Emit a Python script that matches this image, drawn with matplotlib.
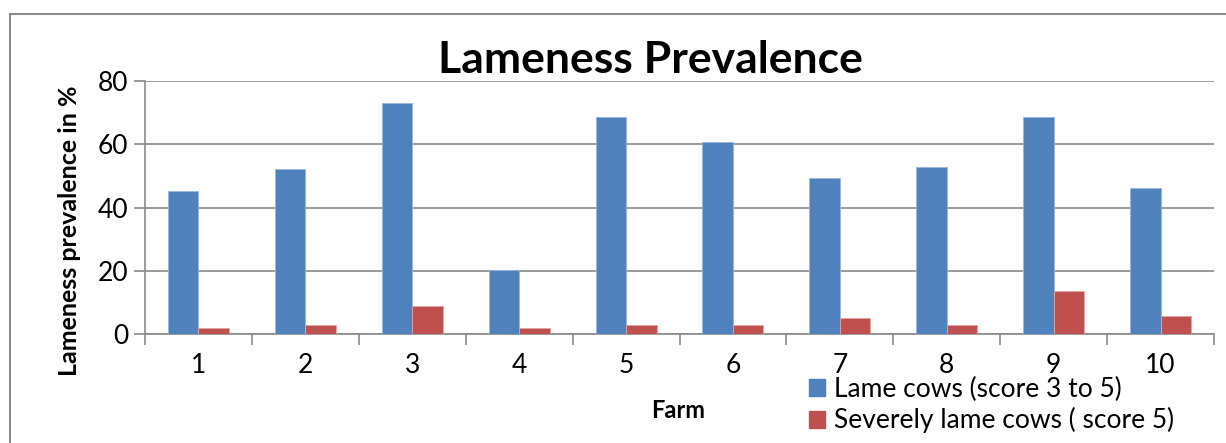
import numpy as np
import matplotlib.pyplot as plt
from matplotlib.patches import Rectangle, Patch

farms = ['1', '2', '3', '4', '5', '6', '7', '8', '9', '10']
lame = [45.3, 52.3, 73.1, 20.2, 68.5, 60.6, 49.3, 52.8, 68.6, 46.3]
severe = [1.8, 2.8, 8.9, 1.8, 2.8, 2.8, 5.0, 2.8, 13.7, 5.7]
yticks = [0, 20, 40, 60, 80]

plt.rcParams['font.family'] = ['Lato', 'DejaVu Sans']

fig = plt.figure(figsize=(12.26, 4.43), dpi=100)

# outer chart border (cropped at right/bottom in the source)
fig.patches.append(Rectangle((10 / 1226, -0.1), 1.2, 1 - 14 / 443 + 0.1,
                             transform=fig.transFigure, fill=False,
                             edgecolor='#8c8c8c', linewidth=1.5))

ax = fig.add_axes([145 / 1226, 1 - 334 / 443, (1214 - 145) / 1226, (334 - 81) / 443])

x = np.arange(len(farms))
w = 0.285
ax.bar(x - w / 2, lame, w, color='#4F81BD', edgecolor='#9bb7dc', linewidth=0.6,
       label='Lame cows (score 3 to 5)', zorder=3)
ax.bar(x + w / 2, severe, w, color='#C0504D', edgecolor='#e3a5a3', linewidth=0.6,
       label='Severely lame cows ( score 5)', zorder=3)

ax.set_xlim(-0.5, len(farms) - 0.5)
ax.set_ylim(0, 80)
ax.set_yticks(yticks)
ax.set_yticklabels([str(v) for v in yticks], fontsize=19)
ax.yaxis.grid(True, color='#8a8a8a', linewidth=1.2, zorder=0)

ax.set_xticks(x)
ax.set_xticklabels(farms, fontsize=19)
ax.tick_params(axis='x', length=0, pad=14)
ax.set_xticks(np.arange(-0.5, len(farms)), minor=True)
ax.tick_params(axis='x', which='minor', length=8, width=1.2, color='#8a8a8a', direction='out')
ax.tick_params(axis='y', length=8, width=1.2, color='#8a8a8a', direction='out', pad=4)

for s in ['top', 'right']:
    ax.spines[s].set_visible(False)
for s in ['left', 'bottom']:
    ax.spines[s].set_color('#8a8a8a')
    ax.spines[s].set_linewidth(1.2)

fig.text(70 / 1226, 1 - 231 / 443, 'Lameness prevalence in %', fontsize=18,
         fontweight='bold', rotation=90, ha='center', va='center')
fig.text(678 / 1226, 1 - 410 / 443, 'Farm', fontsize=17, fontweight='bold',
         ha='center', va='center')
fig.text(650 / 1226, 1 - 60 / 443, 'Lameness Prevalence', fontsize=32,
         fontweight='bold', ha='center', va='center')

handles = [Patch(color='#4F81BD'), Patch(color='#C0504D')]
fig.legend(handles, ['Lame cows (score 3 to 5)', 'Severely lame cows ( score 5)'],
           loc='upper left', bbox_to_anchor=(809 / 1226, 1 - 377 / 443),
           frameon=False, fontsize=19, handlelength=0.6, handleheight=0.6,
           handletextpad=0.35, labelspacing=0.2, borderpad=0, borderaxespad=0)

fig.savefig('out.png', dpi=100)
